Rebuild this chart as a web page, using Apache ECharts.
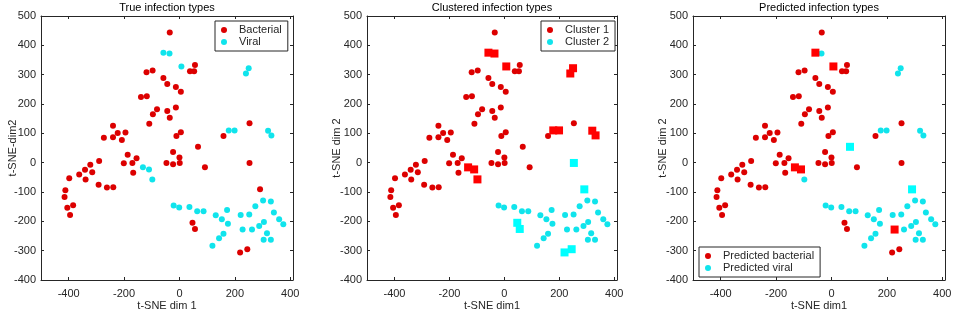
<!DOCTYPE html>
<html>
<head>
<meta charset="utf-8">
<script src="https://cdn.jsdelivr.net/npm/echarts@6/dist/echarts.min.js"></script>
<style>
  html, body { margin: 0; padding: 0; background: #fff; }
  #chart { width: 954px; height: 314px; }
</style>
</head>
<body>
<div id="chart"></div>
<script>
// t-SNE coordinates, grouped by true label
let bacterialPts = [
  [-35, 444], [56, 333], [38, 312], [53, 312], [-119, 308], [-97, 314], [-58, 289], [-44, 268],
  [-13, 258], [5, 242], [-139, 224], [-118, 226], [-81, 182], [-96, 165], [-44, 176], [-13, 188],
  [-35, 153], [-109, 133], [-240, 126], [-273, 85], [-240, 87], [-223, 101], [-195, 103], [-208, 77],
  [-11, 91], [5, 104], [159, 91], [253, 134], [67, 54], [-23, 36], [-187, 27], [-155, 15],
  [-201, -2], [-170, -1], [-167, -34], [-47, -1], [-23, -5], [1, -1], [0, 18], [92, -16],
  [253, -1], [-290, 6], [-322, -7], [-315, -33], [-341, -24], [-362, -40], [-339, -57], [-398, -53],
  [-292, -75], [-262, -85], [-239, -84], [-412, -94], [-415, -117], [-405, -154], [-384, -145], [-395, -178],
  [291, -91], [47, -205], [56, -226], [219, -306], [245, -295]
];
let viralPts = [
  [-58, 375], [-36, 372], [7, 328], [240, 304], [250, 322], [178, 110], [199, 110], [320, 109],
  [332, 93], [-132, -16], [-110, -23], [-98, -57], [-21, -146], [-1, -153], [36, -151], [64, -166],
  [87, -166], [131, -179], [153, -193], [175, -208], [172, -161], [221, -178], [252, -177], [274, -149],
  [302, -129], [330, -132], [341, -170], [360, -193], [375, -210], [305, -202], [288, -216], [262, -228],
  [228, -228], [316, -241], [304, -263], [330, -263], [159, -242], [143, -258], [119, -283]
];
// indices of points that land on the other side
let viralInCluster1 = [0, 1, 2, 3, 4, 5, 6, 7, 8, 9, 10, 11];
let bacterialInCluster2 = [40, 56, 57, 58, 59, 60];
let viralPredBacterial = [0, 2, 9, 10, 32];
let bacterialPredViral = [28, 56];

let xTicks = [-400, -200, 0, 200, 400];
let panelTitles = ["True infection types", "Clustered infection types", "Predicted infection types"];
let xNames = ["t-SNE dim 1", "t-SNE dim1", "t-SNE dim1"];
let yNames = ["t-SNE-dim2", "t-SNE dim 2", "t-SNE dim 2"];
let legendNames = [["Bacterial", "Viral"], ["Cluster 1", "Cluster 2"], ["Predicted bacterial", "Predicted viral"]];

const RED = "#dc0000";
const RED_SQ = "#ff0000";
const CYAN = "#10e4ec";
const CYAN_SQ = "#00ffff";
const INK = "#262626";
const FONT = "Liberation Sans, Arial, sans-serif";

function pick(arr, idx) { return idx.map((i) => arr[i]); }
function omit(arr, idx) { return arr.filter((_, i) => idx.indexOf(i) < 0); }

let grids = [
  { left: 41, top: 16, width: 252, height: 264, outerBoundsMode: "none", containLabel: false },
  { left: 367, top: 16, width: 250, height: 264, outerBoundsMode: "none", containLabel: false },
  { left: 693, top: 16, width: 252, height: 264, outerBoundsMode: "none", containLabel: false },
];
let yNameGaps = [23, 25, 25];

let xAxes = [];
let yAxes = [];
grids.forEach((g, i) => {
  xAxes.push({
    gridIndex: i, type: "value", position: "bottom", min: -500, max: 410,
    name: xNames[i], nameLocation: "middle", nameGap: 20, nameMoveOverlap: false,
    nameTextStyle: { color: INK, fontSize: 11, fontFamily: FONT },
    axisLine: { onZero: false, lineStyle: { color: INK, width: 1 } },
    axisTick: { inside: true, length: 3, customValues: xTicks, lineStyle: { color: INK } },
    axisLabel: { customValues: xTicks, color: INK, fontSize: 11, fontFamily: FONT, margin: 8 },
    splitLine: { show: false },
  });
  xAxes.push({
    gridIndex: i, type: "value", position: "top", min: -500, max: 410,
    axisLine: { onZero: false, lineStyle: { color: INK, width: 1 } },
    axisTick: { inside: true, length: 3, customValues: xTicks, lineStyle: { color: INK } },
    axisLabel: { show: false },
    splitLine: { show: false },
  });
  yAxes.push({
    gridIndex: i, type: "value", position: "left", min: -400, max: 500, interval: 100,
    name: yNames[i], nameLocation: "middle", nameGap: yNameGaps[i], nameRotate: 90,
    nameMoveOverlap: false,
    nameTextStyle: { color: INK, fontSize: 11, fontFamily: FONT },
    axisLine: { onZero: false, lineStyle: { color: INK, width: 1 } },
    axisTick: { inside: true, length: 3, lineStyle: { color: INK } },
    axisLabel: { color: INK, fontSize: 11, fontFamily: FONT, margin: 5 },
    splitLine: { show: false },
  });
  yAxes.push({
    gridIndex: i, type: "value", position: "right", min: -400, max: 500, interval: 100,
    axisLine: { onZero: false, lineStyle: { color: INK, width: 1 } },
    axisTick: { inside: true, length: 3, lineStyle: { color: INK } },
    axisLabel: { show: false },
    splitLine: { show: false },
  });
});

function dots(name, panel, data, color) {
  return {
    name: name, type: "scatter", xAxisIndex: panel * 2, yAxisIndex: panel * 2,
    symbol: "circle", symbolSize: 6, data: data,
    itemStyle: { color: color, opacity: 1 },
  };
}
function squares(name, panel, data, color) {
  return {
    name: name, type: "scatter", xAxisIndex: panel * 2, yAxisIndex: panel * 2,
    symbol: "rect", symbolSize: 8, data: data,
    itemStyle: { color: color, opacity: 1 },
  };
}

let series = [
  // panel 1: true labels
  dots("Bacterial", 0, bacterialPts, RED),
  dots("Viral", 0, viralPts, CYAN),
  // panel 2: clusters, squares where cluster disagrees with label
  dots("Cluster 1", 1, omit(bacterialPts, bacterialInCluster2), RED),
  dots("Cluster 2", 1, omit(viralPts, viralInCluster1), CYAN),
  squares("c1wrong", 1, pick(viralPts, viralInCluster1), RED_SQ),
  squares("c2wrong", 1, pick(bacterialPts, bacterialInCluster2), CYAN_SQ),
  // panel 3: predictions
  dots("Predicted bacterial", 2, omit(bacterialPts, bacterialPredViral), RED),
  dots("Predicted viral", 2, omit(viralPts, viralPredBacterial), CYAN),
  squares("p1wrong", 2, pick(viralPts, viralPredBacterial), RED_SQ),
  squares("p2wrong", 2, pick(bacterialPts, bacterialPredViral), CYAN_SQ),
];

function legendAt(names, left, top) {
  return {
    data: names.map((n) => ({ name: n, icon: "circle" })),
    orient: "vertical", left: left, top: top,
    itemWidth: 20, itemHeight: 6, itemGap: 0,
    padding: [3, 6, 3, 6],
    borderColor: INK, borderWidth: 1, backgroundColor: "#fff",
    textStyle: { color: INK, fontSize: 11, fontFamily: FONT, lineHeight: 12 },
    selectedMode: false,
  };
}

let chart = echarts.init(document.getElementById("chart"), null, { renderer: "canvas" });
chart.setOption({
  animation: false,
  backgroundColor: "#fff",
  title: grids.map((g, i) => ({
    text: panelTitles[i],
    left: g.left + g.width / 2, top: 2, padding: 0, textAlign: "center",
    textStyle: { color: "#000", fontSize: 11, fontWeight: "normal", fontFamily: FONT },
  })),
  legend: [
    legendAt(legendNames[0], 215, 21),
    legendAt(legendNames[1], 541, 21),
    legendAt(legendNames[2], 699, 247),
  ],
  grid: grids,
  xAxis: xAxes,
  yAxis: yAxes,
  series: series,
});
</script>
</body>
</html>
